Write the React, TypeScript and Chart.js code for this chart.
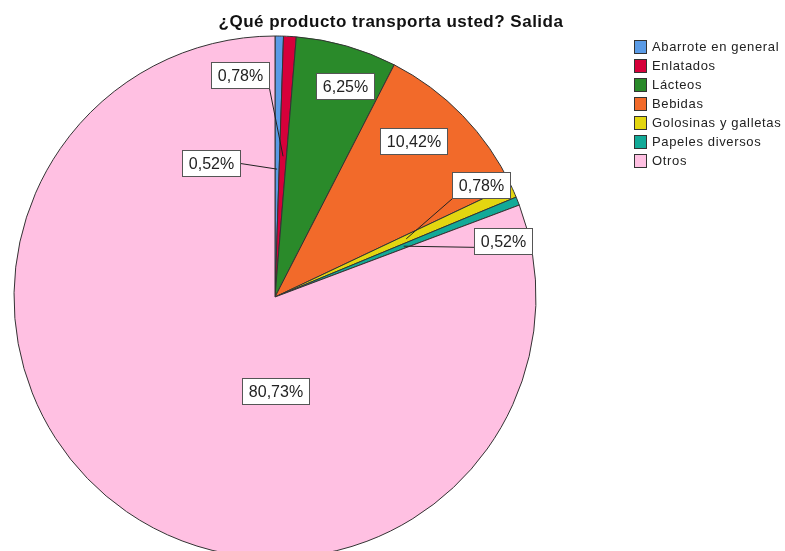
import React, { useEffect, useRef } from "react";
import { Chart, registerables } from "chart.js";

Chart.register(...registerables);

const titleText = "¿Qué producto transporta usted? Salida";
const categories = [
  "Abarrote en general",
  "Enlatados",
  "Lácteos",
  "Bebidas",
  "Golosinas y galletas",
  "Papeles diversos",
  "Otros",
];
const percentages = [0.52, 0.78, 6.25, 10.42, 0.78, 0.52, 80.73];
const valueLabels = ["0,52%", "0,78%", "6,25%", "10,42%", "0,78%", "0,52%", "80,73%"];
const colors = ["#5A9BE6", "#D6003A", "#2A8A2A", "#F26A2A", "#E3D610", "#12AA98", "#FFC0E2"];

// label box placement relative to the pie centre, in units of the radius;
// leader = radius fraction on the slice's mid angle where the leader line ends,
// from = anchor on the box (-1..1 in x and y) where the leader starts
const labelPlacement: { dx: number; dy: number; leader: number | null; from?: [number, number] }[] = [
  { dx: -0.245, dy: -0.513, leader: 0.49, from: [1, 0] },
  { dx: -0.134, dy: -0.851, leader: 0.54, from: [1, 1] },
  { dx: 0.268, dy: -0.808, leader: null },
  { dx: 0.529, dy: -0.598, leader: null },
  { dx: 0.789, dy: -0.429, leader: 0.55, from: [-1, 1] },
  { dx: 0.874, dy: -0.215, leader: 0.53, from: [-1, 0.45] },
  { dx: 0.0, dy: 0.36, leader: null },
];

const FONT = "'Liberation Sans', Arial, sans-serif";

const overlayPlugin = {
  id: "overlay",
  afterDatasetsDraw(chart: any) {
    const ctx = chart.ctx as CanvasRenderingContext2D;
    const meta = chart.getDatasetMeta(0);
    ctx.save();
    ctx.font = `16px ${FONT}`;
    ctx.textAlign = "center";
    ctx.textBaseline = "middle";
    meta.data.forEach((arc: any, i: number) => {
      const p = arc.getProps(["x", "y", "outerRadius", "startAngle", "endAngle"], true);
      const R = p.outerRadius;
      const place = labelPlacement[i];
      const cx = p.x + place.dx * R;
      const cy = p.y + place.dy * R;
      const text = valueLabels[i];
      const w = Math.round(ctx.measureText(text).width + 13);
      const h = 26;
      const bx = Math.round(cx - w / 2) + 0.5;
      const by = Math.round(cy - h / 2) + 0.5;
      if (place.leader !== null && place.from) {
        const mid = (p.startAngle + p.endAngle) / 2;
        const tx = p.x + Math.cos(mid) * place.leader * R;
        const ty = p.y + Math.sin(mid) * place.leader * R;
        const sx = bx + w / 2 + (place.from[0] * w) / 2;
        const sy = by + h / 2 + (place.from[1] * h) / 2;
        ctx.beginPath();
        ctx.strokeStyle = "#222";
        ctx.lineWidth = 1;
        ctx.moveTo(sx, sy);
        ctx.lineTo(tx, ty);
        ctx.stroke();
      }
      ctx.fillStyle = "#ffffff";
      ctx.fillRect(bx, by, w, h);
      ctx.strokeStyle = "#555";
      ctx.lineWidth = 1;
      ctx.strokeRect(bx, by, w, h);
      ctx.fillStyle = "#222";
      ctx.fillText(text, bx + w / 2, by + h / 2 + 1);
    });
    ctx.restore();
  },
  afterDraw(chart: any) {
    const ctx = chart.ctx as any;
    ctx.save();
    // title
    ctx.font = `bold 17px ${FONT}`;
    ctx.letterSpacing = "0.5px";
    ctx.fillStyle = "#111";
    ctx.textAlign = "center";
    ctx.textBaseline = "middle";
    ctx.fillText(titleText, 391, 22);
    // legend
    ctx.font = `13px ${FONT}`;
    ctx.letterSpacing = "0.65px";
    ctx.textAlign = "left";
    categories.forEach((c, i) => {
      const y = 40 + i * 19;
      ctx.fillStyle = colors[i];
      ctx.fillRect(634.5, y + 0.5, 12, 13);
      ctx.strokeStyle = "#333";
      ctx.lineWidth = 1;
      ctx.strokeRect(634.5, y + 0.5, 12, 13);
      ctx.fillStyle = "#222";
      ctx.fillText(c, 652, y + 7.5);
    });
    ctx.restore();
  },
};

export default function App() {
  const ref = useRef<HTMLCanvasElement | null>(null);
  useEffect(() => {
    if (!ref.current) return;
    const chart = new Chart(ref.current, {
      type: "pie",
      data: {
        labels: categories,
        datasets: [
          {
            data: percentages,
            backgroundColor: colors,
            borderColor: "#333",
            borderWidth: 1,
            radius: 261,
            clip: false,
          } as any,
        ],
      },
      options: {
        responsive: false,
        animation: false,
        devicePixelRatio: 1,
        layout: { padding: { top: 43, right: 235, left: 0, bottom: 0 } },
        plugins: {
          legend: { display: false },
          title: { display: false },
          tooltip: { enabled: false },
        },
      },
      plugins: [overlayPlugin],
    });
    return () => chart.destroy();
  }, []);
  return (
    <div style={{ position: "fixed", left: 0, top: 0, width: 785, height: 551, background: "#fff" }}>
      <canvas ref={ref} width={785} height={551} style={{ width: 785, height: 551 }} />
    </div>
  );
}
